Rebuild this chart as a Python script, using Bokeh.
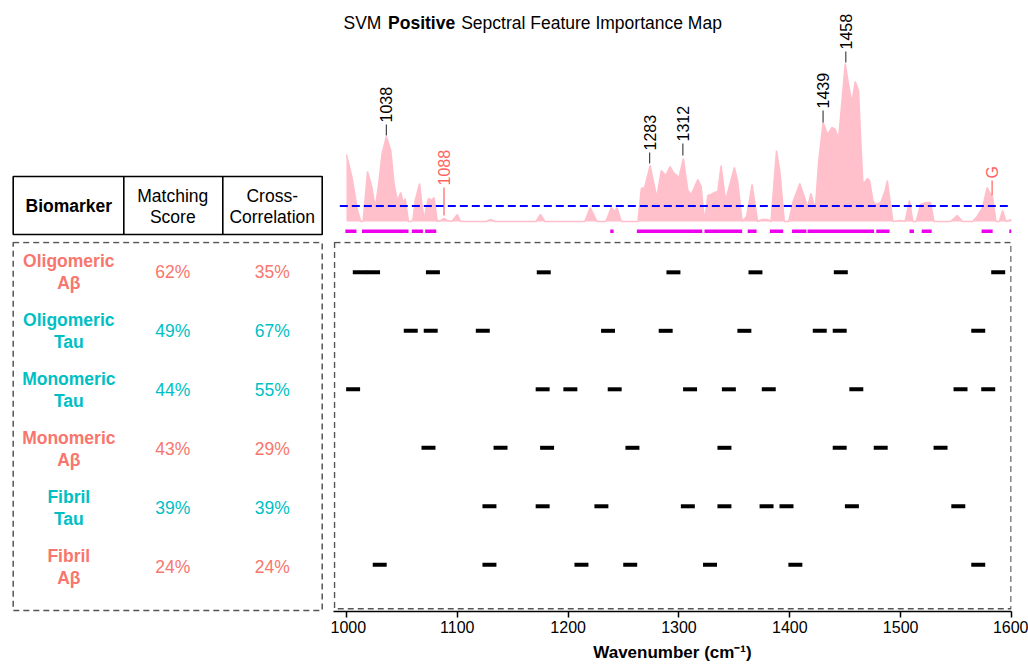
import math
from bokeh.plotting import figure
from bokeh.layouts import row, column
from bokeh.models import Range1d, BoxAnnotation, FixedTicker
from bokeh.embed import file_html
from bokeh.resources import INLINE
from bokeh.core.properties import value

FONT = "Liberation Sans"
SALMON = "#F8766D"
TEAL = "#00BFC4"
PINK = "#FFC0CB"
MAGENTA = "#EE00EE"
LABRED = "#FF6262"

# ---------------- data ----------------
spec_wn = [1000, 1005, 1010, 1013, 1015, 1019, 1023, 1026, 1029, 1032,
           1036, 1040, 1043, 1046, 1049, 1051, 1053, 1056, 1058, 1060,
           1062, 1066, 1068, 1070, 1072, 1074, 1077, 1079, 1082, 1085,
           1088, 1091, 1095, 1100, 1103, 1126, 1130, 1134, 1171, 1175,
           1179, 1215, 1220, 1226, 1234, 1239, 1242, 1244, 1248, 1263,
           1266, 1269, 1274, 1276, 1280, 1284, 1288, 1292, 1295, 1300,
           1304, 1308, 1311, 1317, 1320, 1323, 1326, 1329, 1332, 1335,
           1338, 1342, 1350, 1353, 1357, 1361, 1366, 1371, 1375, 1380,
           1383, 1388, 1391, 1395, 1399, 1403, 1409, 1413, 1416, 1419,
           1423, 1426, 1430, 1434, 1438, 1441, 1444, 1447, 1450, 1453,
           1456, 1459, 1462, 1464, 1466, 1470, 1472, 1475, 1477, 1482,
           1486, 1488, 1490, 1493, 1500, 1504, 1508, 1511, 1514, 1518,
           1523, 1527, 1530, 1545, 1551, 1556, 1565, 1569, 1574, 1578,
           1583, 1586, 1589, 1592, 1595, 1600]
spec_imp = [67, 44, 11, 0, 0, 50, 34, 14, 37, 67,
            85, 71, 37, 21, 29, 19, 23, 0, 0, 2,
            21, 38, 18, 2, 14, 23, 21, 24, 0, 1,
            3, 1, 0, 7, 0, 0, 2, 0, 0, 7,
            0, 0, 14, 0, 0, 14, 10, 14, 0, 0,
            33, 34, 56, 45, 24, 51, 46, 55, 49, 44,
            63, 31, 27, 42, 35, 0, 26, 27, 29, 30,
            56, 21, 54, 40, 0, 5, 37, 0, 2, 2,
            0, 71, 50, 0, 0, 20, 38, 25, 14, 28,
            13, 60, 99, 87, 94, 92, 83, 120, 158, 137,
            119, 140, 131, 81, 37, 43, 41, 21, 17, 19,
            31, 41, 24, 0, 1, 0, 21, 0, 0, 17,
            19, 19, 0, 0, 6, 0, 0, 5, 14, 34,
            24, 0, 0, 11, 0, 2]
assert len(spec_wn) == len(spec_imp)
threshold = 15.4

sel_start = [999, 1014, 1059, 1071, 1238, 1262, 1323, 1362, 1382, 1402, 1416, 1478, 1508, 1519, 1573, 1598]
sel_end = [1009, 1056, 1069, 1081, 1241, 1321, 1357, 1370, 1394, 1415, 1476, 1490, 1512, 1528, 1583, 1600]

peak_text = ["1038", "1088", "1283", "1312", "1439", "1458", "G"]
peak_pos = [1036, 1088, 1273.5, 1303.5, 1430, 1450.5, 1582.5]
peak_base = [86, 6, 58, 66, 99, 159, 26]
peak_len = [11, 28, 11, 12, 12, 11, 15]
peak_color = ["black", LABRED, "black", "black", "black", "black", LABRED]

bio_line1 = ["Oligomeric", "Oligomeric", "Monomeric", "Monomeric", "Fibril", "Fibril"]
bio_line2 = ["A\u03b2", "Tau", "Tau", "A\u03b2", "Tau", "A\u03b2"]
matching = [62, 49, 44, 43, 39, 24]
xcorr = [35, 67, 55, 29, 39, 24]
row_colors = [SALMON, TEAL, TEAL, SALMON, TEAL, SALMON]

bars_olig_ab = [1012, 1024, 1078, 1178, 1295, 1369, 1446, 1588]
bars_olig_tau = [1058, 1076, 1123, 1236, 1288, 1359, 1427, 1445, 1570]
bars_mono_tau = [1006, 1177, 1202, 1242, 1310, 1345, 1381, 1460, 1554, 1579]
bars_mono_ab = [1074, 1139, 1181, 1258, 1341, 1445, 1482, 1536]
bars_fib_tau = [1129, 1177, 1230, 1308, 1341, 1379, 1397, 1456, 1552]
bars_fib_ab = [1030, 1129, 1212, 1256, 1328, 1405, 1570]
bar_rows = [bars_olig_ab, bars_olig_tau, bars_mono_tau, bars_mono_ab, bars_fib_tau, bars_fib_ab]
bar_half = 6.3

x_ticks = [1000, 1100, 1200, 1300, 1400, 1500, 1600]

# ---------------- helpers ----------------
def clean(p):
    p.grid.visible = False
    p.outline_line_color = None
    p.background_fill_color = "white"
    p.border_fill_color = "white"


def style_axis(ax, ticks, hidden=False):
    ax.ticker = FixedTicker(ticks=ticks)
    ax.major_label_text_font = FONT
    ax.major_label_text_font_size = "16px"
    ax.major_label_text_color = "black"
    ax.axis_label = "Wavenumber (cm\u207b\u00b9)"
    ax.axis_label_text_font = FONT
    ax.axis_label_text_font_style = "bold"
    ax.axis_label_text_font_size = "17px"
    ax.axis_label_text_color = "black"
    ax.major_tick_out = 6
    ax.major_tick_in = 0
    ax.minor_tick_out = 0
    ax.minor_tick_in = 0
    ax.axis_line_width = 1.5
    ax.major_tick_line_width = 1.5
    ax.axis_line_color = "black"
    ax.major_tick_line_color = "black"
    ax.major_label_standoff = 3
    ax.axis_label_standoff = 7
    if hidden:
        ax.axis_line_alpha = 0
        ax.major_tick_line_alpha = 0
        ax.major_label_text_alpha = 0
        ax.axis_label_text_alpha = 0


x_range = Range1d(988.3, 1600)
y_rows = Range1d(6.799, 0.473)
row_idx = [1, 2, 3, 4, 5, 6]
BOX_STYLE = dict(fill_color=None, fill_alpha=0, line_color="#555555", line_alpha=1.0,
                 line_width=1.5, line_dash="6 4")

# ---------------- spectrum panel ----------------
spec = figure(width=698, height=237, x_range=x_range, y_range=Range1d(-16, 221),
              output_backend="svg", toolbar_location=None,
              x_axis_location=None, y_axis_location=None,
              min_border_left=3, min_border_right=17, min_border_top=0, min_border_bottom=0)
clean(spec)
spec.varea(x=spec_wn, y1=0, y2=spec_imp, fill_color=PINK)
spec.line(spec_wn, spec_imp, line_color=PINK, line_width=1.5)
spec.segment(x0=[994], y0=[threshold], x1=[1600], y1=[threshold],
             line_color="#0000FF", line_width=2, line_dash="8 4")
spec.segment(x0=sel_start, x1=sel_end, y0=-9.7, y1=-9.7, line_color=MAGENTA, line_width=3.5)
spec.segment(x0=peak_pos, x1=peak_pos, y0=peak_base,
             y1=[b + l for b, l in zip(peak_base, peak_len)],
             line_color=["#444444" if c == "black" else c for c in peak_color], line_width=1.2)
spec.text(x=peak_pos, y=[b + l + 2 for b, l in zip(peak_base, peak_len)], text=peak_text,
          angle=math.pi / 2, text_align="left", text_baseline="middle",
          text_font=value(FONT), text_font_size="16px", text_color=peak_color)
# title (three runs to get the bold word)
spec.text(x=[997.3], y=[199], text=["SVM"], text_align="left", text_baseline="middle",
          text_font=value(FONT), text_font_size="17.5px", text_color="black")
spec.text(x=[1037.5], y=[199], text=["Positive"], text_align="left", text_baseline="middle",
          text_font=value(FONT), text_font_size="17.5px", text_font_style="bold", text_color="black")
spec.text(x=[1103.5], y=[199], text=["Sepctral Feature Importance Map"], text_align="left",
          text_baseline="middle", text_font=value(FONT), text_font_size="17.5px", text_color="black")

# ---------------- bars panel ----------------
bars = figure(width=698, height=427, x_range=x_range, y_range=y_rows,
              output_backend="svg", toolbar_location=None, y_axis_location=None,
              min_border_left=3, min_border_right=17, min_border_top=4, min_border_bottom=51)
clean(bars)
style_axis(bars.xaxis[0], x_ticks)
bx0, bx1, by = [], [], []
for r, centers in zip(row_idx, bar_rows):
    for c in centers:
        bx0.append(c - bar_half)
        bx1.append(c + bar_half)
        by.append(r)
bars.segment(x0=bx0, x1=bx1, y0=by, y1=by, line_color="black", line_width=4, line_cap="butt")
bars.add_layout(BoxAnnotation(left=989.2, right=1599.6, top=0.49, bottom=6.75, **BOX_STYLE))

# ---------------- table header ----------------
hdr = figure(width=330, height=237, x_range=Range1d(0, 330), y_range=Range1d(237, 0),
             output_backend="svg", toolbar_location=None,
             x_axis_location=None, y_axis_location=None, min_border=0)
clean(hdr)
hdr.quad(left=[12.7], right=[321.7], top=[176], bottom=[234], fill_color=None,
         line_color="black", line_width=1.6)
hdr.segment(x0=[123.3, 222.3], x1=[123.3, 222.3], y0=[176, 176], y1=[234, 234],
            line_color="black", line_width=1.6)
hdr.text(x=[68.3], y=[205], text=["Biomarker"], text_align="center", text_baseline="middle",
         text_font=value(FONT), text_font_size="17.5px", text_font_style="bold", text_color="black")
hdr.text(x=[172.3, 172.3, 271.7, 271.7], y=[195, 216, 195, 216],
         text=["Matching", "Score", "Cross-", "Correlation"], text_align="center",
         text_baseline="middle", text_font=value(FONT), text_font_size="17.5px", text_color="black")

# ---------------- table body ----------------
body = figure(width=330, height=427, x_range=Range1d(0, 330), y_range=y_rows,
              output_backend="svg", toolbar_location=None, y_axis_location=None,
              min_border_left=0, min_border_right=0, min_border_top=4, min_border_bottom=51)
clean(body)
style_axis(body.xaxis[0], [100, 200], hidden=True)
body.add_layout(BoxAnnotation(left=12.7, right=321.7, top=0.49, bottom=6.75, **BOX_STYLE))
body.text(x=[68.3] * 6, y=row_idx, text=bio_line1, y_offset=-11, text_align="center",
          text_baseline="middle", text_font=value(FONT), text_font_size="17.5px",
          text_font_style="bold", text_color=row_colors)
body.text(x=[68.3] * 6, y=row_idx, text=bio_line2, y_offset=11, text_align="center",
          text_baseline="middle", text_font=value(FONT), text_font_size="17.5px",
          text_font_style="bold", text_color=row_colors)
body.text(x=[172.3] * 6, y=row_idx, text=[f"{v}%" for v in matching], text_align="center",
          text_baseline="middle", text_font=value(FONT), text_font_size="17.5px", text_color=row_colors)
body.text(x=[271.7] * 6, y=row_idx, text=[f"{v}%" for v in xcorr], text_align="center",
          text_baseline="middle", text_font=value(FONT), text_font_size="17.5px", text_color=row_colors)

layout = row(column(hdr, body), column(spec, bars))
open("out.html", "w").write(file_html(layout, INLINE))
